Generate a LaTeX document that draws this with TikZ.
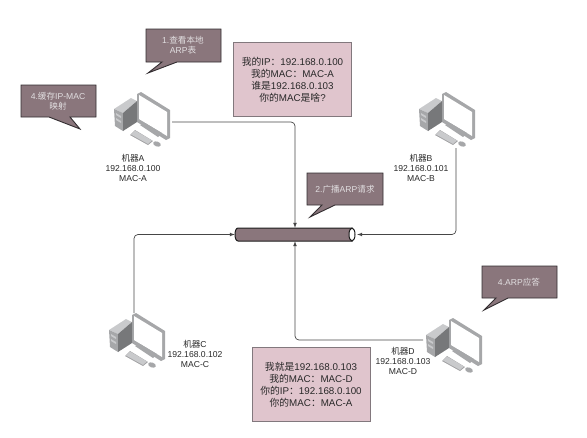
\documentclass[tikz,border=0pt]{standalone}
\usepackage{fontspec}
\usepackage{amsmath}
\setmainfont{Liberation Sans}
\newfontfamily\cjk{Noto Sans CJK SC}
\newcommand{\zh}[1]{{\cjk #1}}
\definecolor{bubblefill}{HTML}{8A767C}
\definecolor{pinkfill}{HTML}{E0C5CD}
\definecolor{pcdark}{HTML}{77787A}
\definecolor{pcmid}{HTML}{A6A7A9}
\definecolor{pclight}{HTML}{C9CACC}
\tikzset{
  bubble/.style={draw={rgb, 255:red, 50; green, 45; blue, 48},line width=0.9pt,fill=bubblefill},
  bubbletext/.style={text={rgb, 255:red, 225; green, 222; blue, 224},align=center,font=\fontsize{8.6}{10.5}\selectfont},
  notebox/.style={draw={rgb, 255:red, 130; green, 120; blue, 125},line width=0.7pt,fill=pinkfill,text={rgb, 255:red, 40; green, 40; blue, 40},align=center,inner sep=0pt,minimum width=118pt,minimum height=74.5pt,font=\fontsize{9.8}{12}\selectfont},
  pclabel/.style={text={rgb, 255:red, 40; green, 40; blue, 40},align=center,font=\fontsize{8.6}{10}\selectfont},
  busline/.style={draw={rgb, 255:red, 30; green, 30; blue, 30},line width=1pt},
  wire/.style={draw={rgb, 255:red, 70; green, 70; blue, 70},line width=0.7pt,rounded corners=4pt,-latex},
  pcicon/.pic={
    \fill[pcmid] (23,2) -- (27,0) -- (56,18) -- (56,46) -- (52,48) -- (23,30) -- cycle;
    \fill[white] (25,3) -- (53,20) -- (53,44) -- (25,27) -- cycle;
    \fill[pclight] (0,17) -- (17,6) -- (23,9) -- (9,21) -- cycle;
    \fill[pcmid] (0,17) -- (9,21) -- (9,39) -- (1,34) -- cycle;
    \fill[pcdark] (9,21) -- (23,9) -- (23,30) -- (9,39) -- cycle;
    \fill[pclight] (2,21) -- (7,24) -- (7,26) -- (2,23) -- cycle;
    \fill[pclight] (2,26) -- (7,29) -- (7,31) -- (2,28) -- cycle;
    \fill[pcmid] (26,33) -- (31,31) -- (48,41) -- (44,45) -- cycle;
    \fill[pcdark!70] (16,43) -- (21,38) -- (39,49) -- (34,53) -- cycle;
    \fill[pclight] (17,42.5) -- (21,38.5) -- (38,48.5) -- (34,52) -- cycle;
    \fill[pcmid,rotate around={20:(43,52)}] (43,52) ellipse [x radius=4, y radius=2.5];
  }
}

\begin{document}
\begin{tikzpicture}[x=1pt,y=1pt,yscale=-1,xscale=1]
\useasboundingbox (0,0) rectangle (587,437);

%Computers
\coordinate (pca) at (114,92);
\coordinate (pcb) at (419,92);
\coordinate (pcc) at (109,313);
\coordinate (pcd) at (426,318);
\pic [transform shape] at (pca) {pcicon};
\pic [transform shape] at (pcb) {pcicon};
\pic [transform shape] at (pcc) {pcicon};
\pic [transform shape] at (pcd) {pcicon};

%Bus
\draw [busline,fill=bubblefill] (352,228) -- (238,228) .. controls (234,228) and (234,241) .. (238,241) -- (352,241) -- cycle;
\draw [busline,fill=white] (352,234.5) ellipse [x radius=3, y radius=6.5];
\node (bus) [inner sep=0pt,minimum width=120pt,minimum height=13pt] at (295,234.5) {};

%Connector ends
\coordinate (pcaout) at (172,122);
\coordinate (pcbout) at (456,148);
\coordinate (pccout) at (134,313);
\coordinate (pcdout) at (423,340);

%Connectors
\draw [wire] (pcaout) -| (bus.north);
\draw [wire,shorten >=2pt] (pcbout) |- (bus.east);
\draw [wire] (pccout) |- (bus.west);
\draw [wire] (pcdout) -| (bus.south);

%Callouts
\draw [bubble] (146,29) -- (221,29) -- (221,62) -- (177,62) -- (148,73) -- (162,62) -- (146,62) -- cycle;
\draw [bubble] (21,85) -- (96,85) -- (96,117) -- (70,117) -- (80,129) -- (49,117) -- (21,117) -- cycle;
\draw [bubble] (307,173) -- (383,173) -- (383,205) -- (335,205) -- (310,217) -- (322,205) -- (307,205) -- cycle;
\draw [bubble] (482,266) -- (557,266) -- (557,298) -- (508,298) -- (484,310) -- (496,298) -- (482,298) -- cycle;

% Text Node
\draw (183,45) node (stepa) [bubbletext] {1.\zh{查看本地}\\ARP\zh{表}};
% Text Node
\draw (58,101) node (stepd) [bubbletext] {4.\zh{缓存}IP-MAC\\\zh{映射}};
% Text Node
\draw (345,189) node (stepb) [bubbletext] {2.\zh{广播}ARP\zh{请求}};
% Text Node
\draw (519,282) node (stepc) [bubbletext] {4.ARP\zh{应答}};
% Text Node
\draw (292.5,79.5) node (notereq) [notebox] {\zh{我的}IP\zh{：}192.168.0.100\\\zh{我的}MAC\zh{：}MAC-A\\\zh{谁是}192.168.0.103\\\zh{你的}MAC\zh{是啥}?};
% Text Node
\draw (311,384.5) node (noteres) [notebox] {\zh{我就是}192.168.0.103\\\zh{我的}MAC\zh{：}MAC-D\\\zh{你的}IP\zh{：}192.168.0.100\\\zh{你的}MAC\zh{：}MAC-A};
% Text Node
\draw (133,168) node (labela) [pclabel] {\zh{机器}A\\192.168.0.100\\MAC-A};
% Text Node
\draw (421,168) node (labelb) [pclabel] {\zh{机器}B\\192.168.0.101\\MAC-B};
% Text Node
\draw (195,354) node (labelc) [pclabel] {\zh{机器}C\\192.168.0.102\\MAC-C};
% Text Node
\draw (403,361) node (labeld) [pclabel] {\zh{机器}D\\192.168.0.103\\MAC-D};

\end{tikzpicture}
\end{document}
